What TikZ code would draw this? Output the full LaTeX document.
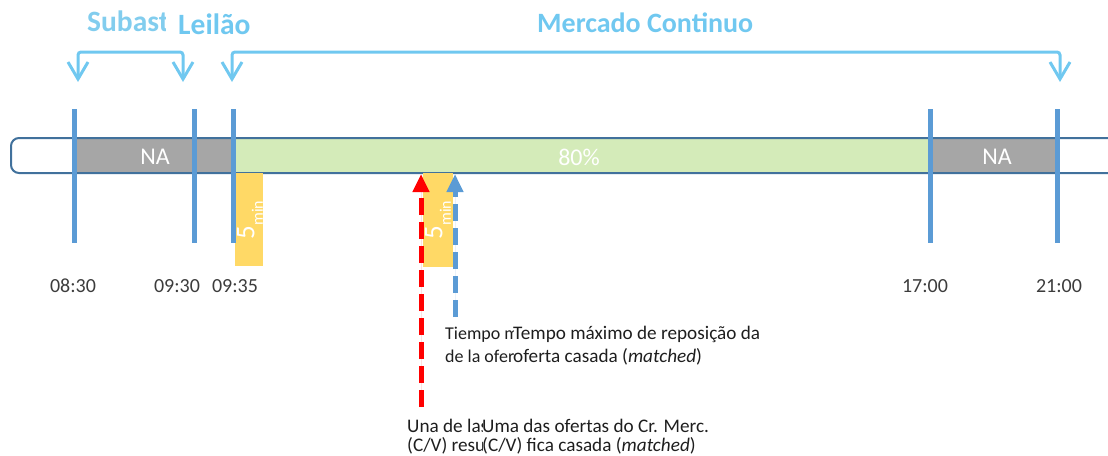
\documentclass[tikz,border=0pt]{standalone}
\usepackage{fontspec}
\setmainfont{Carlito}
\usetikzlibrary{arrows.meta}
\definecolor{tl}{RGB}{91,155,213}
\definecolor{barline}{RGB}{65,113,156}
\definecolor{nagray}{RGB}{166,166,166}
\definecolor{okgreen}{RGB}{212,235,185}
\definecolor{gold}{RGB}{255,217,102}
\definecolor{sky}{RGB}{112,200,240}
\definecolor{skylight}{RGB}{130,205,238}
\definecolor{txt}{RGB}{30,30,30}
\definecolor{ttxt}{RGB}{60,60,60}
\begin{document}
\begin{tikzpicture}[x=1pt,y=-1pt,
  tline/.style={draw=tl, line width=5pt},
  natext/.style={text=white, font=\fontsize{24}{24}\selectfont, inner sep=0},
  time/.style={text=ttxt, font=\fontsize{20}{24}\selectfont, anchor=base, inner sep=0},
  note/.style={text=txt, align=left, anchor=base west, inner sep=0},
  title/.style={font=\fontsize{28}{30}\selectfont\bfseries, anchor=base, inner sep=0},
  brk/.style={draw=sky, line width=3pt, rounded corners=3pt,
    {Straight Barb[length=17pt,width=20pt]}-{Straight Barb[length=17pt,width=20pt]}},
  dasharrow/.style={line width=5pt, dash pattern=on 17pt off 7pt,
    -{Triangle[length=18pt,width=16pt]}},
  fivemin/.style={rotate=90, text=white, inner sep=0}
]
\useasboundingbox (0,0) rectangle (1108,455);
\clip (0,0) rectangle (1108,455);

% bar fills
\fill[nagray] (73,139) rectangle (233,172);
\fill[okgreen] (233,139) rectangle (930,172);
\fill[nagray] (930,139) rectangle (1057,172);
\draw[barline, line width=2pt, rounded corners=8pt] (1130,138) -- (11,138) -- (11,173) -- (1130,173);

% zone labels
\node[natext] (na1) at (155,157) {NA};
\node[natext] (pct) at (579,157) {80\%};
\node[natext] (na2) at (997,157) {NA};

% 5 min boxes
\fill[gold] (235,173) rectangle (263,266);
\fill[gold] (423,173) rectangle (453,267);
\node[fivemin] (fm1) at (250,220) {{\fontsize{27}{27}\selectfont 5}\raisebox{-8.5pt}{\fontsize{16}{16}\selectfont min}};
\node[fivemin] (fm2) at (438,220) {{\fontsize{27}{27}\selectfont 5}\raisebox{-8.5pt}{\fontsize{16}{16}\selectfont min}};

% time lines
\draw[tline] (74,109) -- (74,243);
\draw[tline] (194,109) -- (194,243);
\draw[tline] (233.5,109) -- (233.5,243);
\draw[tline] (930.5,109) -- (930.5,243);
\draw[tline] (1057.5,109) -- (1057.5,243);

% time labels
\node[time] (t1) at (73,292) {08:30};
\node[time] (t2) at (177,292) {09:30};
\node[time] (t3) at (235,292) {09:35};
\node[time] (t4) at (925,292) {17:00};
\node[time] (t5) at (1059,292) {21:00};

% titles
\begin{scope}
  \clip (0,0) rectangle (165,60);
  \node[title, font=\fontsize{29.5}{30}\selectfont\bfseries, text=skylight, anchor=base west] (subasta) at (87,31) {Subasta};
\end{scope}
\node[title, font=\fontsize{29.5}{30}\selectfont\bfseries, text=sky, anchor=base west] (leilao) at (178,34) {Leilão};
\node[title, text=sky, anchor=base west] (mercado) at (537,32) {Mercado Continuo};

% brackets
\coordinate (b1a) at (78,82);
\coordinate (b1b) at (183,82);
\coordinate (b2a) at (232,82);
\coordinate (b2b) at (1060,82);
\draw[brk] (b1a) -- ++(0,-30) -| (b1b);
\draw[brk] (b2a) -- ++(0,-30) -| (b2b);

% dashed arrows
\coordinate (rs) at (421,407);
\coordinate (re) at (421,174);
\coordinate (bs) at (455,317);
\coordinate (be) at (455,174);
\draw[dasharrow, draw=red, fill=red] (rs) -- (re);
\draw[dasharrow, draw=tl, fill=tl] (bs) -- (be);

% notes (anchor base = baseline of the last line)
\begin{scope}
  \clip (440,300) rectangle (513,380);
  \node[note, font=\fontsize{18}{23}\selectfont] (es1) at (445,362) {Tiempo m\\de la ofert};
\end{scope}
\node[note, font=\fontsize{19.2}{23}\selectfont] (pt1) at (513,362) {Tempo máximo de reposição da\\oferta casada (\textit{matched})};
\begin{scope}
  \clip (400,400) rectangle (482,455);
  \node[note, font=\fontsize{19.2}{19}\selectfont] (es2) at (407,451) {Una de las\\(C/V) resu};
\end{scope}
\node[note, font=\fontsize{19.2}{19}\selectfont] (pt2) at (482,451) {Uma das ofertas do Cr. Merc.\\(C/V) fica casada (\textit{matched})};
\end{tikzpicture}
\end{document}
